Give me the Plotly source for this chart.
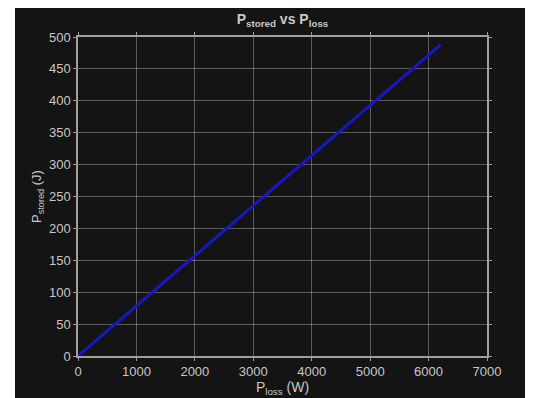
import plotly.graph_objects as go

# Data
p_loss = [0, 6210]       # W
p_stored = [0, 488]      # J

x_ticks = [0, 1000, 2000, 3000, 4000, 5000, 6000, 7000]
y_ticks = [0, 50, 100, 150, 200, 250, 300, 350, 400, 450, 500]

BG = "#141414"
TXT = "#c8c8c8"
FONT = "Liberation Sans, Arial, sans-serif"

fig = go.Figure()
fig.add_trace(go.Scatter(x=p_loss, y=p_stored, mode="lines",
                         line=dict(color="#1717c4", width=3), showlegend=False))

# page body has an 8px margin, so the figure starts at (8, 8)
W, H = 525, 390
L, R, T, B = 70, 46, 29, 42
pw, ph = W - L - R, H - T - B

fig.add_shape(type="rect", xref="paper", yref="paper", layer="below",
              x0=(7 - L) / pw, x1=(W - L) / pw + 0.02,
              y0=-B / ph - 0.02, y1=1 + T / ph + 0.02,
              fillcolor=BG, line=dict(width=0))

axis_common = dict(showgrid=True, gridcolor="rgba(255,255,255,0.3)", gridwidth=1,
                   showline=True, linecolor="#a0a0a0", linewidth=1.5, mirror="ticks",
                   ticks="outside", ticklen=3, tickcolor="#a0a0a0", automargin=False,
                   zeroline=False, tickfont=dict(family=FONT, size=13, color=TXT))

fig.update_xaxes(range=[0, 7000], tickvals=x_ticks, **axis_common,
                 title=dict(text="P<sub>loss</sub> (W)", font=dict(family=FONT, size=14, color=TXT),
                            standoff=0))
fig.update_yaxes(range=[0, 500], tickvals=y_ticks, **axis_common,
                 title=dict(text="P<sub>stored</sub> (J)", font=dict(family=FONT, size=13, color=TXT),
                            standoff=4))

fig.update_layout(
    width=W, height=H,
    margin=dict(l=L, r=R, t=T, b=B),
    paper_bgcolor="white", plot_bgcolor=BG,
    title=dict(text="<b>P<sub>stored</sub> vs P<sub>loss</sub></b>", x=(L + pw / 2) / W, xanchor="center",
               y=1 - 11 / H, yanchor="middle",
               font=dict(family=FONT, size=14, color=TXT)),
)

fig.write_html("out.html")
